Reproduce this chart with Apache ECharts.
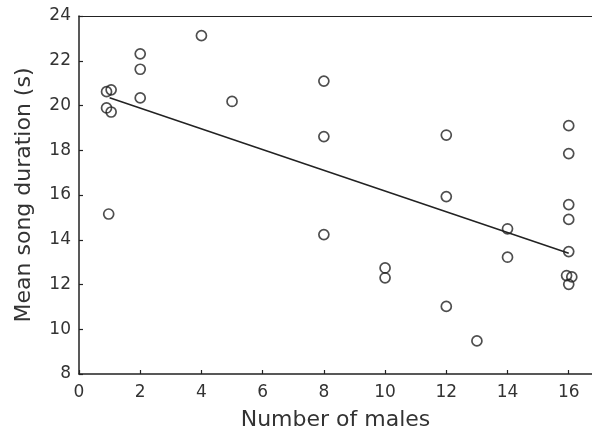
<!DOCTYPE html>
<html>
<head>
<meta charset="utf-8">
<script src="https://cdn.jsdelivr.net/npm/echarts@6/dist/echarts.min.js"></script>
<style>
  html, body { margin: 0; padding: 0; background: #fff; }
  #chart { width: 592px; height: 436px; }
</style>
</head>
<body>
<div id="chart"></div>
<script>
// number of males per group
var males = [0.9, 1.05, 0.9, 1.05, 0.97, 2, 2, 2, 4, 5,
  8, 8, 8, 10, 10, 12, 12, 12, 13, 14, 14,
  16, 16, 16, 16, 16, 15.93, 16.1, 16];
// mean song duration (s)
var duration = [20.62, 20.7, 19.89, 19.71, 15.15, 22.31, 21.62, 20.34, 23.12, 20.18,
  21.09, 18.61, 14.23, 12.74, 12.3, 18.68, 15.93, 11.02, 9.48, 14.49, 13.22,
  19.1, 17.85, 15.57, 14.91, 13.47, 12.4, 12.34, 12.01];
// fitted regression line ends
var fitX = [1, 16];
var fitY = [20.35, 13.4];

var points = males.map(function (m, i) { return [m, duration[i]]; });
var fitLine = fitX.map(function (x, i) { return [x, fitY[i]]; });

var font = 'DejaVu Sans';
var ink = '#222';

var myChart = echarts.init(document.getElementById('chart'));
myChart.setOption({
  animation: false,
  grid: { left: 79, top: 16, bottom: 57, right: 0 },
  xAxis: [{
    type: 'value', min: 0, max: 16.76, interval: 2,
    name: 'Number of males',
    nameLocation: 'middle', nameGap: 35,
    nameTextStyle: { fontFamily: font, fontSize: 22, color: '#333' },
    axisLine: { lineStyle: { color: ink, width: 1.5 } },
    axisTick: { inside: true, length: 4, lineStyle: { color: ink, width: 1.2 } },
    axisLabel: { fontFamily: font, fontSize: 17, color: '#333', margin: 10, showMaxLabel: false },
    splitLine: { show: false }
  }, {
    // top frame line only
    type: 'value', position: 'top', min: 0, max: 16.76,
    axisLine: { lineStyle: { color: ink, width: 1.2 } },
    axisTick: { show: false }, axisLabel: { show: false }, splitLine: { show: false }
  }],
  yAxis: {
    type: 'value', min: 8, max: 24, interval: 2,
    name: 'Mean song duration (s)',
    nameLocation: 'middle', nameGap: 44,
    nameTextStyle: { fontFamily: font, fontSize: 22, color: '#333' },
    axisLine: { lineStyle: { color: ink, width: 1.5 } },
    axisTick: { inside: true, length: 4, lineStyle: { color: ink, width: 1.2 } },
    axisLabel: { fontFamily: font, fontSize: 17, color: '#333', margin: 8, padding: [8, 0, 0, 0] },
    splitLine: { show: false }
  },
  series: [
    {
      type: 'line',
      data: fitLine,
      showSymbol: false,
      lineStyle: { color: ink, width: 1.5 },
      z: 1
    },
    {
      type: 'scatter',
      data: points,
      symbol: 'circle',
      symbolSize: 10,
      itemStyle: { color: 'rgba(255,255,255,0)', borderColor: ink, borderWidth: 1.7 },
      z: 2
    }
  ]
});
</script>
</body>
</html>
